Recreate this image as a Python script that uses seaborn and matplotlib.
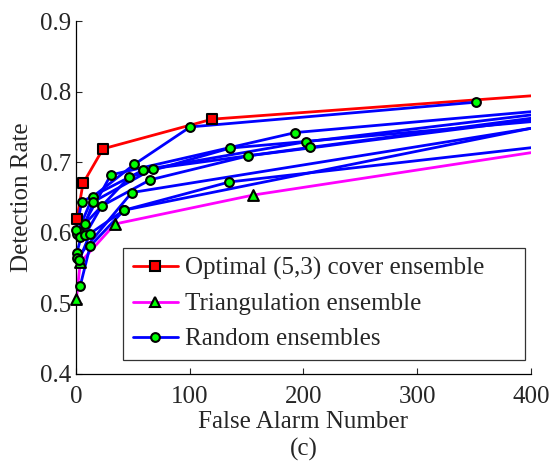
import pandas as pd
import matplotlib.pyplot as plt
import seaborn as sns
from matplotlib.lines import Line2D

# optimal (5,3) cover ensemble; last point is where the line leaves the axes
optimal_x = [1, 6.4, 24, 120, 400]
optimal_y = [0.620, 0.670, 0.719, 0.761, 0.794]
optimal_marked = 4

# triangulation ensemble
tri_x = [0.5, 4, 34.5, 156, 400]
tri_y = [0.506, 0.558, 0.6125, 0.6535, 0.7135]
tri_marked = 4

# random ensembles (one list per run)
random_x = [
    [0.9, 14.9, 51.5, 100.6, 351.5],
    [3.2, 30.8, 193, 400],
    [0.3, 5.3, 59.4, 202.6, 400],
    [3.8, 15.5, 68.2, 206, 400],
    [8.2, 22.8, 65.3, 151.6, 400],
    [0.9, 8.2, 47.1, 135.6, 400],
    [1.5, 49.2, 400],
    [3.2, 12.6, 42.4, 400],
    [3.8, 12.6, 42.4, 135, 400],
]
random_y = [
    [0.598, 0.651, 0.697, 0.750, 0.785],
    [0.601, 0.682, 0.742, 0.7715],
    [0.604, 0.644, 0.689, 0.729, 0.7669],
    [0.594, 0.644, 0.691, 0.721, 0.7622],
    [0.597, 0.638, 0.675, 0.709, 0.7598],
    [0.572, 0.613, 0.679, 0.720, 0.7574],
    [0.565, 0.657, 0.748],
    [0.562, 0.599, 0.632, 0.748],
    [0.524, 0.581, 0.632, 0.672, 0.7205],
]
# number of leading points carrying a marker in each run
random_marked = [5, 3, 4, 4, 4, 4, 2, 3, 4]


def build_frame(xs, ys, marked, name, run=0):
    df = pd.DataFrame({"x": xs, "y": ys})
    df["series"] = name
    df["run"] = run
    df["marked"] = [i < marked for i in range(len(xs))]
    return df


frames = [build_frame(optimal_x, optimal_y, optimal_marked, "optimal"),
          build_frame(tri_x, tri_y, tri_marked, "tri")]
for k, (xs, ys) in enumerate(zip(random_x, random_y)):
    frames.append(build_frame(xs, ys, random_marked[k], "random", k))
df = pd.concat(frames, ignore_index=True)

sns.set_style("ticks")
plt.rcParams['font.family'] = ['Liberation Serif', 'DejaVu Serif']
plt.rcParams['xtick.direction'] = 'in'
plt.rcParams['ytick.direction'] = 'in'

fig = plt.figure(figsize=(5.53, 4.62), dpi=100)
ax = fig.add_axes([0.137, 0.1905, 0.823, 0.764])

styles = {
    "optimal": dict(color='#ff0000', marker='s', s=46),
    "tri": dict(color='#ff00ff', marker='^', s=60),
    "random": dict(color='#0000ff', marker='o', s=40),
}
for name in ["optimal", "tri", "random"]:
    sub = df[df["series"] == name]
    st = styles[name]
    sns.lineplot(data=sub, x="x", y="y", units="run", estimator=None, sort=False,
                 color=st["color"], lw=2.0, legend=False, ax=ax)
    mk = sub[sub["marked"]]
    face = st["color"] if name == "optimal" else '#00ff00'
    sns.scatterplot(data=mk, x="x", y="y", marker=st["marker"], s=st["s"],
                    color=face, edgecolor='black', linewidth=1.5,
                    legend=False, ax=ax, zorder=3, clip_on=False)

ax.set_xlim(0, 400)
ax.set_ylim(0.4, 0.9)
ax.set_xticks([0, 100, 200, 300, 400])
ax.set_yticks([0.4, 0.5, 0.6, 0.7, 0.8, 0.9])
ax.set_yticklabels(["0.4", "0.5", "0.6", "0.7", "0.8", "0.9"])
ax.tick_params(labelsize=18, length=4, width=0.8)
ax.tick_params(axis='x', pad=9)
ax.tick_params(axis='y', pad=3)
sns.despine(ax=ax)
for sp in ["left", "bottom"]:
    ax.spines[sp].set_linewidth(0.9)
    ax.spines[sp].set_color('black')

ax.set_xlabel("False Alarm Number", fontsize=18, labelpad=1.5)
ax.set_ylabel("Detection Rate", fontsize=18, labelpad=5)

handles = [
    Line2D([], [], color='#ff0000', lw=2.0, marker='s', markersize=6.8,
           markerfacecolor='#ff0000', markeredgecolor='black', markeredgewidth=1.5),
    Line2D([], [], color='#ff00ff', lw=2.0, marker='^', markersize=7.5,
           markerfacecolor='#00ff00', markeredgecolor='black', markeredgewidth=1.5),
    Line2D([], [], color='#0000ff', lw=2.0, marker='o', markersize=6.3,
           markerfacecolor='#00ff00', markeredgecolor='black', markeredgewidth=1.5),
]
labels = ["Optimal (5,3) cover ensemble", "Triangulation ensemble", "Random ensembles"]
leg = ax.legend(handles, labels, loc='lower left', bbox_to_anchor=(0.104, 0.04, 0.883, 0.3),
                mode='expand', fontsize=18, frameon=True, fancybox=False, handlelength=1.8,
                handletextpad=0.3, labelspacing=0.5, borderpad=0.38, borderaxespad=0)
leg.get_frame().set_edgecolor('black')
leg.get_frame().set_linewidth(0.9)

fig.text(0.549, 0.027, "(c)", fontsize=18, ha='center', va='center')

fig.savefig("out.png", dpi=100)
